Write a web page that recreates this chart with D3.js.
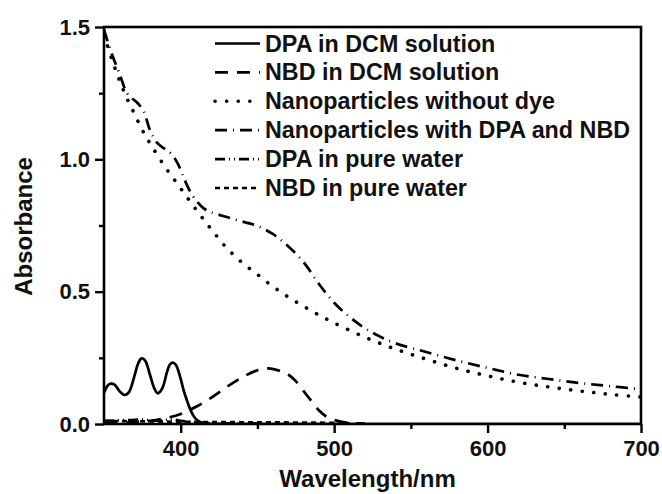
<!DOCTYPE html>
<html>
<head>
<meta charset="utf-8">
<script src="https://cdn.jsdelivr.net/npm/d3@7"></script>
<style>
  html, body { margin: 0; padding: 0; background: #fff; }
  svg { display: block; }
  text { font-family: "Liberation Sans", Arial, Helvetica, sans-serif; font-weight: bold; fill: #111; }
</style>
</head>
<body>
<svg id="chart" width="662" height="494"></svg>
<script>
// UV-vis absorption spectra (wavelength in nm, absorbance)
const dpaDcmWl  = [350, 352, 354, 357, 360, 363, 366, 370, 372, 374, 375, 377, 380, 383, 385, 388, 391, 393, 395, 397, 400, 402, 404, 406, 408, 410, 413, 416, 420, 440, 500, 600, 700];
const dpaDcmAbs = [0.118, 0.142, 0.152, 0.148, 0.125, 0.110, 0.118, 0.185, 0.225, 0.246, 0.248, 0.238, 0.185, 0.132, 0.116, 0.135, 0.195, 0.225, 0.232, 0.222, 0.170, 0.125, 0.090, 0.058, 0.034, 0.018, 0.007, 0.002, 0.000, 0.000, 0.000, 0.000, 0.000];

const nbdDcmWl  = [350, 360, 370, 380, 390, 400, 410, 420, 430, 440, 450, 457, 465, 470, 475, 480, 485, 490, 495, 500, 505, 510, 520];
const nbdDcmAbs = [0.004, 0.005, 0.007, 0.012, 0.022, 0.038, 0.065, 0.100, 0.140, 0.176, 0.203, 0.210, 0.200, 0.187, 0.162, 0.125, 0.088, 0.052, 0.028, 0.015, 0.008, 0.004, 0.002];

const npBlankWl  = [350, 355, 360, 365, 370, 375, 380, 390, 400, 410, 420, 430, 440, 450, 460, 470, 480, 490, 500, 520, 540, 560, 580, 600, 620, 640, 660, 680, 700];
const npBlankAbs = [1.470, 1.380, 1.300, 1.230, 1.170, 1.110, 1.060, 0.970, 0.890, 0.810, 0.735, 0.665, 0.610, 0.565, 0.520, 0.480, 0.445, 0.412, 0.382, 0.328, 0.283, 0.245, 0.210, 0.182, 0.158, 0.140, 0.125, 0.112, 0.102];

const npDyeWl  = [350, 355, 360, 365, 368, 372, 376, 380, 385, 390, 394, 398, 402, 406, 410, 415, 420, 430, 440, 450, 460, 470, 480, 490, 500, 510, 520, 530, 540, 560, 580, 600, 620, 640, 660, 680, 700];
const npDyeAbs = [1.490, 1.400, 1.325, 1.250, 1.232, 1.212, 1.180, 1.110, 1.060, 1.038, 1.020, 0.985, 0.930, 0.880, 0.845, 0.815, 0.800, 0.782, 0.765, 0.748, 0.718, 0.672, 0.612, 0.530, 0.458, 0.405, 0.362, 0.330, 0.305, 0.272, 0.240, 0.212, 0.186, 0.170, 0.155, 0.143, 0.131];

const dpaWaterWl  = [350, 360, 370, 375, 380, 385, 390, 395, 400, 410, 420, 450];
const dpaWaterAbs = [0.012, 0.014, 0.016, 0.018, 0.014, 0.013, 0.016, 0.017, 0.012, 0.006, 0.003, 0.002];

const nbdWaterWl  = [350, 380, 400, 430, 460, 490, 505, 510];
const nbdWaterAbs = [0.011, 0.010, 0.008, 0.007, 0.006, 0.005, 0.004, 0.003];

const seriesNames = ["DPA in DCM solution", "NBD in DCM solution", "Nanoparticles without dye",
                     "Nanoparticles with DPA and NBD", "DPA in pure water", "NBD in pure water"];

const xMajorTicks = [400, 500, 600, 700];
const xMinorTicks = [450, 550, 650];
const yMajorTicks = [0.0, 0.5, 1.0, 1.5];
const yMinorTicks = [0.25, 0.75, 1.25];

const svg = d3.select("#chart");
const m = { left: 104, right: 641, top: 27, bottom: 424 };

const x = d3.scaleLinear().domain([350, 700]).range([m.left, m.right]);
const y = d3.scaleLinear().domain([0, 1.5]).range([m.bottom, m.top]);

const series = [
  { name: seriesNames[0], wl: dpaDcmWl,   abs: dpaDcmAbs,   dash: null,            cap: "butt" },
  { name: seriesNames[1], wl: nbdDcmWl,   abs: nbdDcmAbs,   dash: "13,9",          cap: "butt" },
  { name: seriesNames[2], wl: npBlankWl,  abs: npBlankAbs,  dash: "0.1,11.5",      cap: "round" },
  { name: seriesNames[3], wl: npDyeWl,    abs: npDyeAbs,    dash: "12,6,1,6",      cap: "butt" },
  { name: seriesNames[4], wl: dpaWaterWl, abs: dpaWaterAbs, dash: "10,4,1,4,1,4",  cap: "butt" },
  { name: seriesNames[5], wl: nbdWaterWl, abs: nbdWaterAbs, dash: "5,4",           cap: "butt" }
];

const line = d3.line()
  .x(d => x(d[0]))
  .y(d => y(d[1]))
  .curve(d3.curveCatmullRom.alpha(0.5));

const plot = svg.append("g");
plot.append("clipPath").attr("id", "clip")
  .append("rect").attr("x", m.left).attr("y", m.top - 3)
  .attr("width", m.right - m.left).attr("height", m.bottom - m.top + 3);

const curves = plot.append("g").attr("clip-path", "url(#clip)");
series.slice().reverse().forEach(s => {
  curves.append("path")
    .datum(s.wl.map((w, i) => [w, s.abs[i]]))
    .attr("d", line)
    .attr("fill", "none")
    .attr("stroke", "#000")
    .attr("stroke-width", s.cap === "round" ? 3.6 : 2.7)
    .attr("stroke-linecap", s.cap)
    .attr("stroke-dasharray", s.dash);
});

// axes
const xAxis = svg.append("g").attr("transform", `translate(0,${m.bottom})`)
  .call(d3.axisBottom(x).tickValues(xMajorTicks).tickFormat(d3.format("d")).tickSize(9).tickPadding(7));
const xMinor = svg.append("g").attr("transform", `translate(0,${m.bottom})`)
  .call(d3.axisBottom(x).tickValues(xMinorTicks).tickFormat("").tickSize(5));
const yAxis = svg.append("g").attr("transform", `translate(${m.left},0)`)
  .call(d3.axisLeft(y).tickValues(yMajorTicks).tickFormat(d3.format(".1f")).tickSize(9).tickPadding(5));
const yMinor = svg.append("g").attr("transform", `translate(${m.left},0)`)
  .call(d3.axisLeft(y).tickValues(yMinorTicks).tickFormat("").tickSize(5));

[xAxis, xMinor, yAxis, yMinor].forEach(g => {
  g.select(".domain").remove();
  g.selectAll(".tick line").attr("stroke", "#000").attr("stroke-width", 2.4);
  g.selectAll(".tick text").style("font-size", "22px").attr("fill", "#111");
});

// frame
svg.append("rect")
  .attr("x", m.left).attr("y", m.top)
  .attr("width", m.right - m.left).attr("height", m.bottom - m.top)
  .attr("fill", "none").attr("stroke", "#000").attr("stroke-width", 2.6);

// axis titles
svg.append("text")
  .attr("x", (m.left + m.right) / 2 - 5).attr("y", 487)
  .attr("text-anchor", "middle").style("font-size", "24px")
  .text("Wavelength/nm");
svg.append("text")
  .attr("transform", `translate(32,${(m.top + m.bottom) / 2 + 1}) rotate(-90)`)
  .attr("text-anchor", "middle").style("font-size", "24px")
  .text("Absorbance");

// legend
const legend = svg.append("g");
series.forEach((s, i) => {
  const base = 51.5 + i * 28.9;
  legend.append("line")
    .attr("x1", 215).attr("x2", 260)
    .attr("y1", base - 8).attr("y2", base - 8)
    .attr("stroke", "#000")
    .attr("stroke-width", s.cap === "round" ? 3.6 : 2.7)
    .attr("stroke-linecap", s.cap)
    .attr("stroke-dasharray", s.dash);
  legend.append("text")
    .attr("x", 265).attr("y", base)
    .style("font-size", "23.3px")
    .text(s.name);
});
</script>
</body>
</html>
